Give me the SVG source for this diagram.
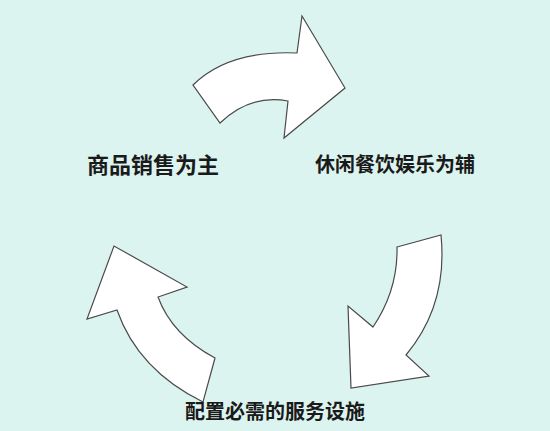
<svg xmlns="http://www.w3.org/2000/svg" width="550" height="431" viewBox="0 0 550 431">
<style>
.arrow{fill:#ffffff;stroke:#4a4a4a;stroke-width:1.2;stroke-linejoin:miter}
.lbl{font-family:"Noto Sans CJK SC","Noto Sans CJK TC",sans-serif;fill:#1a1a1a}
</style>
<rect width="550" height="431" fill="#dcf4ef"/>
<g id="connectors">
<path id="arrow-top" class="arrow" d="M193,85 Q228,50 297,53 L302,16 L345,88 L284,138 L288,101 Q250,94 220,123 Z"/>
<path id="arrow-right" class="arrow" d="M397,247 L441,235 Q448,305 406,355 L429,376 L351,388 L348,306 L373,327 Q398,290 397,247 Z"/>
<path id="arrow-left" class="arrow" d="M215,358 L203,402 Q138,370 117,310 L87,319 L114,246 L187,287 L158,297 Q172,335 215,358 Z"/>
</g>
<g id="node-1"><text class="lbl" x="87" y="173" font-size="22" font-weight="bold">商品销售为主</text></g>
<g id="node-2"><text class="lbl" x="315" y="172" font-size="20" font-weight="bold">休闲餐饮娱乐为辅</text></g>
<g id="node-3"><text class="lbl" x="185" y="419" font-size="20" font-weight="bold">配置必需的服务设施</text></g>
</svg>
